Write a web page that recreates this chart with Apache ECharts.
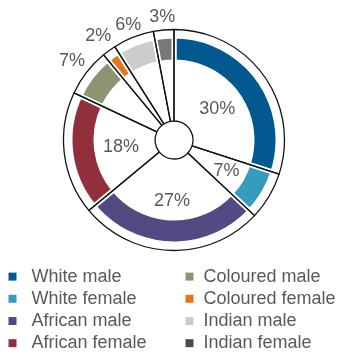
<!DOCTYPE html>
<html>
<head>
<meta charset="utf-8">
<script src="https://cdn.jsdelivr.net/npm/echarts@6/dist/echarts.min.js"></script>
<style>
html,body{margin:0;padding:0;background:#fff;}
#c{width:343px;height:356px;}
</style>
</head>
<body>
<div id="c"></div>
<script>
const categories = ['White male','White female','African male','African female','Coloured male','Coloured female','Indian male','Indian female'];
const values = [30, 7, 27, 18, 7, 2, 6, 3];

const palette = ['#01598f','#379bbd','#524a82','#922f3c','#8d9470','#e5761e','#cbcccd','#77787c'];
const legendPalette = ['#01598f','#379bbd','#524a82','#922f3c','#8d9470','#e5761e','#cbcccd','#4b4b4d'];

const FONT = '"Liberation Sans", Arial, sans-serif';
const TXT = '#58595b';
const center = [174, 140];

// label placement groups (which categories share a label ring, and that ring's outer radius)
const labelGroups = [
  {names: ['White male', 'African female'], outer: 101},
  {names: ['White female', 'African male'], outer: 116},
  {names: ['Coloured male', 'Coloured female'], outer: 252},
  {names: ['Indian male', 'Indian female'], outer: 242}
];

const chart = echarts.init(document.getElementById('c'), null, {renderer: 'canvas'});

const bandData = categories.map((n, i) => ({name: n, value: values[i], itemStyle: {color: palette[i]}}));
const outlineData = categories.map((n, i) => ({name: n, value: values[i]}));

function legendFor(names, left, pad) {
  return {
    orient: 'vertical',
    left: left,
    top: 265.5,
    padding: 0,
    itemGap: 0,
    itemWidth: 8,
    itemHeight: 8,
    icon: 'rect',
    selectedMode: false,
    itemStyle: {borderWidth: 0},
    data: names.map(n => ({name: n, itemStyle: {color: legendPalette[categories.indexOf(n)], borderWidth: 0}})),
    textStyle: {fontFamily: FONT, fontSize: 18, color: TXT, lineHeight: 22.2, padding: [0, 0, 0, pad]}
  };
}

const common = {type: 'pie', center: center, startAngle: 90, clockwise: true, silent: true, animation: false,
  labelLine: {show: false}, emphasis: {disabled: true}};

const labelSeries = labelGroups.map((g, k) => Object.assign({}, common, {
  name: 'labels' + k, radius: [0, g.outer], z: 3,
  itemStyle: {color: 'rgba(0,0,0,0)', borderWidth: 0},
  label: {position: 'inside', formatter: '{c}%', fontFamily: FONT, fontSize: 18, color: TXT},
  data: categories.map((n, i) => ({name: n, value: values[i], label: {show: g.names.includes(n)}}))
}));

chart.setOption({
  backgroundColor: '#ffffff',
  legend: [
    legendFor(categories.slice(0, 4), 8.5, 10),
    legendFor(categories.slice(4), 185.5, 5)
  ],
  series: [
    Object.assign({}, common, {
      name: 'band', radius: [78, 104], z: 1,
      itemStyle: {borderColor: '#ffffff', borderWidth: 5},
      label: {show: false},
      data: bandData
    }),
    Object.assign({}, common, {
      name: 'outline', radius: [19, 110.5], z: 2,
      itemStyle: {color: 'rgba(0,0,0,0)', borderColor: '#151515', borderWidth: 1.3},
      label: {show: false},
      data: outlineData
    })
  ].concat(labelSeries)
});
</script>
</body>
</html>
